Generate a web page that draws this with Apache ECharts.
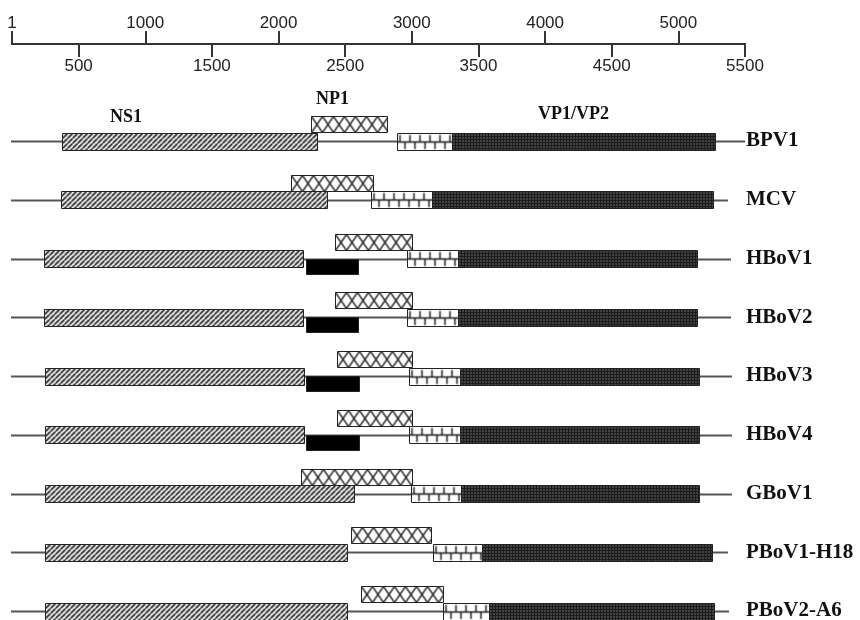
<!DOCTYPE html>
<html><head><meta charset="utf-8">
<script src="https://cdn.jsdelivr.net/npm/echarts@6/dist/echarts.min.js"></script>
<style>html,body{margin:0;padding:0;background:#fff}#c{width:860px;height:620px}</style>
</head><body><div id="c"></div>
<script>
// ---- data (nucleotide positions) ----
const viruses = ['BPV1','MCV','HBoV1','HBoV2','HBoV3','HBoV4','GBoV1','PBoV1-H18','PBoV2-A6'];
const genomeEnd = [5500,5372,5395,5395,5402,5402,5402,5372,5380];
const ns1 = [[375,2289],[368,2364],[240,2183],[240,2183],[248,2191],[248,2191],[248,2566],[248,2514],[248,2514]];
const np1 = [[2244,2814],[2093,2709],[2424,3001],[2424,3001],[2439,3001],[2439,3001],[2168,3001],[2544,3144],[2619,3234]];
const vp1Unique = [[2889,3301],[2694,3151],[2964,3347],[2964,3347],[2979,3362],[2979,3362],[2994,3369],[3159,3527],[3234,3579]];
const vp2 = [[3301,5275],[3151,5260],[3347,5140],[3347,5140],[3362,5155],[3362,5155],[3369,5155],[3527,5252],[3579,5267]];
const extraOrf = [null,null,[2206,2596],[2206,2596],[2206,2604],[2206,2604],null,null,null];
const rulerTop = [0,1000,2000,3000,4000,5000];
const rulerBottom = [500,1500,2500,3500,4500,5500];
const geneLabels = ['NS1','NP1','VP1/VP2'];

// ---- fill patterns ----
function tile(w,h,draw){const c=document.createElement('canvas');c.width=w;c.height=h;const g=c.getContext('2d');draw(g,w,h);return {image:c,repeat:'repeat'};}
const hatch = tile(5,5,(g,w,h)=>{g.fillStyle='#fff';g.fillRect(0,0,w,h);g.strokeStyle='#1a1a1a';g.lineWidth=1.7;g.beginPath();for(let o=-5;o<=5;o+=5){g.moveTo(o,h);g.lineTo(o+5,0);}g.stroke();});
const cross = tile(11,16,(g,w,h)=>{g.fillStyle='#fff';g.fillRect(0,0,w,h);g.strokeStyle='#222';g.lineWidth=1.5;g.beginPath();g.moveTo(0,0);g.lineTo(w,h);g.moveTo(w,0);g.lineTo(0,h);g.stroke();});
const brick = tile(10,17,(g,w,h)=>{g.fillStyle='#fff';g.fillRect(0,0,w,h);g.strokeStyle='#1e1e1e';g.lineWidth=1.5;g.beginPath();g.moveTo(0,8.5);g.lineTo(w,8.5);g.moveTo(2.5,1.5);g.lineTo(2.5,8.5);g.moveTo(7.5,8.5);g.lineTo(7.5,15.5);g.stroke();});
const dots = tile(3,3,(g,w,h)=>{g.fillStyle='#1c1c1c';g.fillRect(0,0,w,h);g.fillStyle='#b8b8b8';g.fillRect(1,1,1,1);});
const kindStyle = [
  {y0:-8.5,h:17,fill:hatch},
  {y0:-25,h:16,fill:cross},
  {y0:-8.5,h:17,fill:brick},
  {y0:-8.5,h:17,fill:dots},
  {y0:0,h:15,fill:'#000'}
];

const geneData = [];
const sets = [ns1, np1, vp1Unique, vp2, extraOrf];
sets.forEach((arr,k)=>arr.forEach((se,i)=>{ if(se) geneData.push([se[0],se[1],i,k]); }));
const lineData = genomeEnd.map((e,i)=>[0,e,i]);

function renderGene(params, api){
  const k = api.value(3), row = api.value(2);
  const a = api.coord([api.value(0), row]);
  const b = api.coord([api.value(1), row]);
  const st = kindStyle[k];
  return {type:'rect', x:Math.round(a[0])+0.5, y:Math.round(a[1]+st.y0)+0.5,
    shape:{x:0,y:0,width:Math.round(b[0]-a[0]),height:st.h},
    style:{fill:st.fill, stroke:'#222', lineWidth:1}};
}
function renderLine(params, api){
  const row = api.value(2);
  const a = api.coord([api.value(0), row]);
  const b = api.coord([api.value(1), row]);
  return {type:'line', shape:{x1:a[0]-1,y1:Math.round(a[1])+0.5,x2:b[0],y2:Math.round(a[1])+0.5}, style:{stroke:'#555', lineWidth:2}};
}

const rulerFont = {fontFamily:'Liberation Sans', fontSize:17, color:'#222'};
const chart = echarts.init(document.getElementById('c'), null, {renderer:'canvas'});
chart.setOption({
  animation:false,
  backgroundColor:'#fff',
  grid:[
    {left:12, right:115, top:44, height:0, containLabel:false, outerBoundsMode:'none'},
    {left:12, right:115, top:141, bottom:9, containLabel:false, outerBoundsMode:'none'}
  ],
  xAxis:[
    {gridIndex:0, type:'value', position:'top', min:0, max:5500,
     axisLine:{show:true, lineStyle:{color:'#333', width:2}},
     axisTick:{show:true, customValues:rulerTop, length:13, lineStyle:{color:'#333', width:2}},
     axisLabel:Object.assign({show:true, customValues:rulerTop, margin:12, showMinLabel:true, showMaxLabel:true, hideOverlap:false,
       formatter:v=> v===0 ? '1' : String(v)}, rulerFont),
     splitLine:{show:false}},
    {gridIndex:0, type:'value', position:'bottom', min:0, max:5500,
     axisLine:{show:true, lineStyle:{color:'#333', width:2}},
     axisTick:{show:true, customValues:rulerBottom, length:13, lineStyle:{color:'#333', width:2}},
     axisLabel:Object.assign({show:true, customValues:rulerBottom, margin:14, showMinLabel:true, showMaxLabel:true, hideOverlap:false,
       formatter:v=> String(v)}, rulerFont),
     splitLine:{show:false}},
    {gridIndex:1, type:'value', min:0, max:5500, show:false}
  ],
  yAxis:[
    {gridIndex:0, type:'value', show:false},
    {gridIndex:1, type:'category', data:viruses, inverse:true, boundaryGap:false, position:'right',
     axisLine:{show:false}, axisTick:{show:false}, splitLine:{show:false},
     axisLabel:{margin:1, align:'left', fontFamily:'Liberation Serif', fontWeight:'bold', fontSize:21, color:'#111'}}
  ],
  series:[
    {type:'custom', xAxisIndex:2, yAxisIndex:1, data:lineData, encode:{x:[0,1], y:2}, renderItem:renderLine, z:1, silent:true},
    {type:'custom', xAxisIndex:2, yAxisIndex:1, data:geneData, encode:{x:[0,1], y:2}, renderItem:renderGene, z:2, silent:true}
  ],
  graphic:[
    {type:'text', left:110, top:108, style:{text:geneLabels[0], font:'bold 18px "Liberation Serif"', fill:'#111'}},
    {type:'text', left:316, top:90, style:{text:geneLabels[1], font:'bold 18px "Liberation Serif"', fill:'#111'}},
    {type:'text', left:538, top:105, style:{text:geneLabels[2], font:'bold 18px "Liberation Serif"', fill:'#111'}}
  ]
});
</script>
</body></html>
